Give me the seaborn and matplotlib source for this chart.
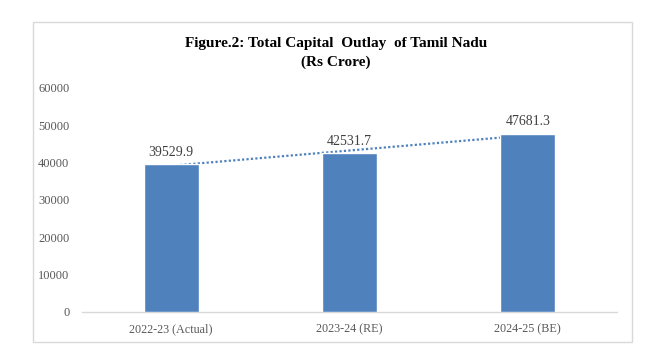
import numpy as np
import pandas as pd
import matplotlib.pyplot as plt
import seaborn as sns
from matplotlib.patches import Rectangle

sns.set_theme(style="white")
plt.rcParams['font.family'] = ['Liberation Serif', 'DejaVu Serif']

years = ["2022-23 (Actual)", "2023-24 (RE)", "2024-25 (BE)"]
outlay = [39529.9, 42531.7, 47681.3]
yticks = [0, 10000, 20000, 30000, 40000, 50000, 60000]

df = pd.DataFrame({"year": years, "outlay": outlay})

fig = plt.figure(figsize=(6.56, 3.59), dpi=100)
fig.patch.set_facecolor("white")
ax = fig.add_axes([0.125, 0.131, 0.8155, 0.624])

sns.barplot(data=df, x="year", y="outlay", color="#4F81BD", saturation=1,
            width=0.31, ax=ax, zorder=3)

# linear trendline (like the Excel one)
xs = np.arange(len(outlay))
slope, icpt = np.polyfit(xs, outlay, 1)
ax.plot(xs, slope * xs + icpt, linestyle=(0, (1, 1)), color="#4F81BD",
        linewidth=1.6, zorder=2)

for i, v in enumerate(outlay):
    ax.text(i, v + 1500, f"{v:.1f}", ha="center", va="bottom",
            fontsize=10, color="#404040")

ax.set_xlim(-0.5, 2.5)
ax.set_ylim(0, 60000)
ax.set_yticks(yticks)
ax.set_yticklabels([str(t) for t in yticks])
ax.set_xlabel("")
ax.set_ylabel("")
ax.tick_params(axis="both", length=0, labelcolor="#595959")
ax.tick_params(axis="y", pad=9, labelsize=9)
ax.tick_params(axis="x", pad=8, labelsize=8.7)
for s in ["left", "right", "top"]:
    ax.spines[s].set_visible(False)
ax.spines["bottom"].set_color("#D9D9D9")
ax.spines["bottom"].set_linewidth(1)
ax.grid(False)

fig.text(0.512, 0.853, "Figure.2: Total Capital  Outlay  of Tamil Nadu\n(Rs Crore)",
         ha="center", va="center", fontsize=11, fontweight="bold",
         color="black", linespacing=1.55)

fig.patches.append(Rectangle((0.0503, 0.047), 0.913, 0.891, transform=fig.transFigure,
                             fill=False, edgecolor="#D9D9D9", linewidth=1))

fig.savefig("out.png", dpi=100)
